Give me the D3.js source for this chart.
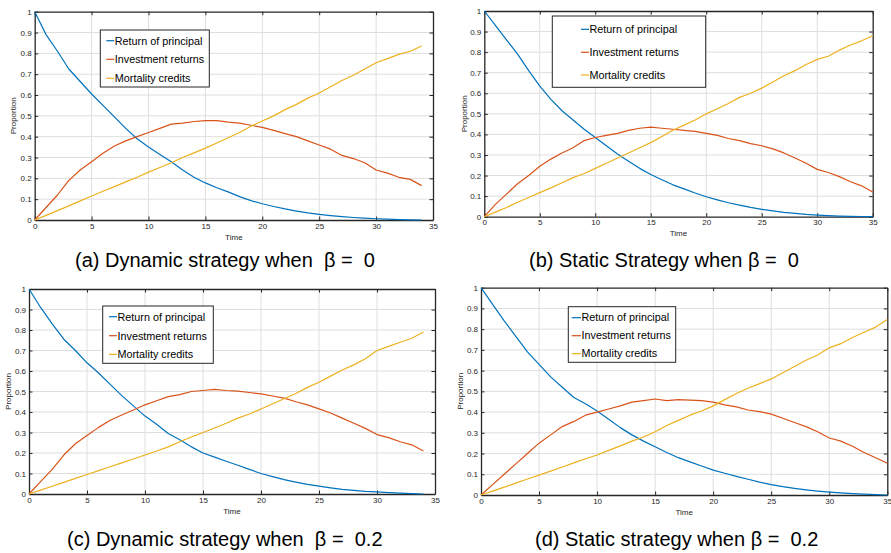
<!DOCTYPE html>
<html>
<head>
<meta charset="utf-8">
<script src="https://cdn.jsdelivr.net/npm/d3@7"></script>
<style>
  html, body { margin: 0; padding: 0; background: #fff; }
  svg { display: block; font-family: "Liberation Sans", Arial, Helvetica, sans-serif; }
</style>
</head>
<body>
<svg id="chart" width="891" height="553"></svg>
<script>
// Time grids: dynamic strategies run to year 34, static to year 35
const timeDynamic = d3.range(0, 35);
const timeStatic = d3.range(0, 36);

const seriesNames = ["Return of principal", "Investment returns", "Mortality credits"];
const seriesColors = ["#0072BD", "#D95319", "#EDB120"];

const xTicks = [0, 5, 10, 15, 20, 25, 30, 35];
const yTicks = [0, 0.1, 0.2, 0.3, 0.4, 0.5, 0.6, 0.7, 0.8, 0.9, 1];

// (a) Dynamic strategy, beta = 0
const principalA = [1.00,0.89,0.81,0.725,0.665,0.605,0.55,0.495,0.44,0.39,0.35,0.315,0.28,0.24,0.205,0.178,0.155,0.135,0.112,0.093,0.078,0.065,0.053,0.043,0.034,0.027,0.021,0.016,0.012,0.009,0.006,0.004,0.002,0.001,0.0];
const investA = [0,0.06,0.12,0.19,0.24,0.28,0.32,0.355,0.38,0.40,0.42,0.44,0.46,0.465,0.473,0.477,0.477,0.47,0.465,0.455,0.445,0.43,0.415,0.40,0.38,0.36,0.34,0.31,0.295,0.275,0.24,0.225,0.205,0.195,0.165];
const mortalityA = [0,0.022,0.045,0.068,0.092,0.115,0.138,0.16,0.183,0.205,0.23,0.252,0.275,0.30,0.322,0.345,0.37,0.395,0.42,0.45,0.475,0.50,0.53,0.555,0.585,0.61,0.64,0.67,0.695,0.725,0.755,0.775,0.795,0.81,0.835];

// (b) Static strategy, beta = 0
const principalB = [1.0,0.93,0.86,0.79,0.71,0.635,0.57,0.515,0.47,0.425,0.385,0.345,0.305,0.27,0.235,0.205,0.18,0.155,0.135,0.115,0.097,0.082,0.068,0.056,0.045,0.036,0.028,0.021,0.016,0.011,0.008,0.005,0.003,0.002,0.001,0.0];
const investB = [0,0.06,0.11,0.16,0.20,0.245,0.28,0.31,0.335,0.37,0.385,0.395,0.405,0.42,0.43,0.435,0.43,0.425,0.42,0.415,0.405,0.395,0.38,0.37,0.355,0.345,0.33,0.31,0.285,0.26,0.23,0.215,0.195,0.17,0.15,0.12];
const mortalityB = [0,0.022,0.045,0.07,0.093,0.117,0.14,0.165,0.19,0.21,0.235,0.26,0.285,0.31,0.335,0.36,0.39,0.42,0.445,0.47,0.50,0.525,0.55,0.58,0.60,0.625,0.655,0.685,0.71,0.74,0.765,0.78,0.81,0.835,0.855,0.88];

// (c) Dynamic strategy, beta = 0.2
const principalC = [1.0,0.91,0.83,0.755,0.70,0.64,0.59,0.535,0.48,0.43,0.38,0.34,0.295,0.265,0.23,0.20,0.18,0.16,0.14,0.12,0.10,0.085,0.07,0.058,0.047,0.038,0.03,0.023,0.018,0.013,0.01,0.007,0.004,0.002,0.0];
const investC = [0,0.06,0.12,0.19,0.245,0.285,0.325,0.36,0.385,0.41,0.435,0.455,0.475,0.485,0.50,0.505,0.51,0.505,0.502,0.495,0.488,0.478,0.468,0.45,0.435,0.415,0.395,0.37,0.345,0.32,0.29,0.275,0.255,0.24,0.21];
const mortalityC = [0,0.019,0.038,0.057,0.076,0.095,0.114,0.133,0.152,0.171,0.19,0.21,0.23,0.255,0.278,0.30,0.322,0.345,0.37,0.39,0.415,0.44,0.465,0.49,0.52,0.545,0.575,0.605,0.63,0.66,0.70,0.72,0.74,0.76,0.79];

// (d) Static strategy, beta = 0.2
const principalD = [1.0,0.92,0.84,0.765,0.69,0.63,0.57,0.52,0.47,0.44,0.405,0.365,0.325,0.29,0.26,0.233,0.205,0.18,0.16,0.14,0.12,0.105,0.09,0.076,0.062,0.05,0.04,0.032,0.025,0.019,0.014,0.01,0.007,0.004,0.002,0.0];
const investD = [0,0.05,0.10,0.15,0.20,0.25,0.29,0.33,0.355,0.385,0.40,0.415,0.43,0.448,0.455,0.463,0.455,0.46,0.458,0.455,0.448,0.435,0.425,0.41,0.402,0.39,0.37,0.35,0.33,0.305,0.275,0.26,0.235,0.205,0.18,0.153];
const mortalityD = [0,0.019,0.038,0.057,0.077,0.096,0.115,0.135,0.155,0.175,0.193,0.215,0.237,0.26,0.28,0.305,0.335,0.36,0.385,0.405,0.43,0.46,0.49,0.515,0.537,0.56,0.59,0.62,0.65,0.675,0.71,0.73,0.76,0.785,0.81,0.847];

// Panel placement (plot box in page pixels), legend box and caption
const panels = [
  { time: timeDynamic, values: [principalA, investA, mortalityA],
    box: { left: 34.7, right: 433, top: 11.7, bottom: 220 },
    legend: { x: 100.3, y: 30, w: 109, h: 57, rows: [10.7, 29.3, 48.3], lineX: 6, lineW: 8 },
    ylabelX: 13.5, caption: "(a) Dynamic strategy when  β =  0", capX: 75, capY: 266.5 },
  { time: timeStatic, values: [principalB, investB, mortalityB],
    box: { left: 484.3, right: 872.7, top: 11, bottom: 216.7 },
    legend: { x: 552.3, y: 16, w: 153.4, h: 71.3, rows: [13.3, 36.3, 59], lineX: 28.7, lineW: 8 },
    ylabelX: 464, caption: "(b) Static Strategy when β =  0", capX: 529, capY: 266.5 },
  { time: timeDynamic, values: [principalC, investC, mortalityC],
    box: { left: 29, right: 435, top: 289, bottom: 494 },
    legend: { x: 102.7, y: 306, w: 110.6, h: 57.3, rows: [10.7, 29.7, 48.3], lineX: 6.3, lineW: 8 },
    ylabelX: 8.5, caption: "(c) Dynamic strategy when  β =  0.2", capX: 67, capY: 546 },
  { time: timeStatic, values: [principalD, investD, mortalityD],
    box: { left: 481, right: 887.3, top: 287.7, bottom: 495 },
    legend: { x: 568.3, y: 306.7, w: 107.4, h: 55.6, rows: [11, 29, 47], lineX: 3.4, lineW: 9.3 },
    ylabelX: 460, caption: "(d) Static strategy when β =  0.2", capX: 535, capY: 546 }
];

const svg = d3.select("#chart");
const axisColor = "#262626";
const gridColor = "#dedede";
const tickLen = 3.5;

panels.forEach(p => {
  const b = p.box;
  const x = d3.scaleLinear().domain([0, 35]).range([b.left, b.right]);
  const y = d3.scaleLinear().domain([0, 1]).range([b.bottom, b.top]);
  const g = svg.append("g");

  // grid
  g.append("g").selectAll("line").data(xTicks.slice(1, -1)).join("line")
    .attr("x1", d => x(d)).attr("x2", d => x(d))
    .attr("y1", b.top).attr("y2", b.bottom)
    .attr("stroke", gridColor).attr("stroke-width", 1);
  g.append("g").selectAll("line").data(yTicks.slice(1, -1)).join("line")
    .attr("y1", d => y(d)).attr("y2", d => y(d))
    .attr("x1", b.left).attr("x2", b.right)
    .attr("stroke", gridColor).attr("stroke-width", 1);

  // axes with inward ticks (bottom/left labelled, top/right mirrored)
  const fmt = d => d3.format("~g")(d);
  const bottomAxis = d3.axisBottom(x).tickValues(xTicks).tickFormat(fmt).tickSizeInner(-tickLen).tickSizeOuter(0).tickPadding(3);
  const topAxis = d3.axisTop(x).tickValues(xTicks).tickFormat("").tickSizeInner(-tickLen).tickSizeOuter(0);
  const leftAxis = d3.axisLeft(y).tickValues(yTicks).tickFormat(fmt).tickSizeInner(-tickLen).tickSizeOuter(0).tickPadding(3);
  const rightAxis = d3.axisRight(y).tickValues(yTicks).tickFormat("").tickSizeInner(-tickLen).tickSizeOuter(0);

  const axes = [
    g.append("g").attr("transform", `translate(0,${b.bottom})`).call(bottomAxis),
    g.append("g").attr("transform", `translate(0,${b.top})`).call(topAxis),
    g.append("g").attr("transform", `translate(${b.left},0)`).call(leftAxis),
    g.append("g").attr("transform", `translate(${b.right},0)`).call(rightAxis)
  ];
  axes.forEach(a => {
    a.select(".domain").attr("stroke", axisColor).attr("stroke-width", 1.3);
    a.selectAll(".tick line").attr("stroke", axisColor).attr("stroke-width", 1);
    a.selectAll(".tick text").attr("fill", axisColor).attr("font-size", 8)
      .attr("font-family", "Liberation Sans, Arial, sans-serif");
  });

  // curves
  const line = d3.line().x((d, i) => x(p.time[i])).y(d => y(d));
  p.values.forEach((vals, k) => {
    g.append("path").datum(vals)
      .attr("fill", "none").attr("stroke", seriesColors[k])
      .attr("stroke-width", 1.2).attr("stroke-linejoin", "round")
      .attr("d", line);
  });

  // axis titles
  g.append("text").attr("x", (b.left + b.right) / 2).attr("y", b.bottom + 19.5)
    .attr("text-anchor", "middle").attr("font-size", 8).attr("fill", axisColor).text("Time");
  g.append("text")
    .attr("transform", `translate(${p.ylabelX + 2.8},${(b.top + b.bottom) / 2}) rotate(-90)`)
    .attr("text-anchor", "middle").attr("font-size", 8).attr("fill", axisColor).text("Proportion");

  // legend
  const L = p.legend;
  const lg = g.append("g").attr("transform", `translate(${L.x},${L.y})`);
  lg.append("rect").attr("width", L.w).attr("height", L.h)
    .attr("fill", "#fff").attr("stroke", axisColor).attr("stroke-width", 1);
  seriesNames.forEach((name, k) => {
    lg.append("line").attr("x1", L.lineX).attr("x2", L.lineX + L.lineW)
      .attr("y1", L.rows[k]).attr("y2", L.rows[k])
      .attr("stroke", seriesColors[k]).attr("stroke-width", 1.2);
    lg.append("text").attr("x", L.lineX + L.lineW + 0.5).attr("y", L.rows[k] + 3.8)
      .attr("font-size", 10.8).attr("fill", "#000").text(name);
  });

  // caption
  svg.append("text").attr("x", p.capX).attr("y", p.capY)
    .attr("font-size", 20).attr("fill", "#000")
    .style("white-space", "pre").text(p.caption);
});
</script>
</body>
</html>
